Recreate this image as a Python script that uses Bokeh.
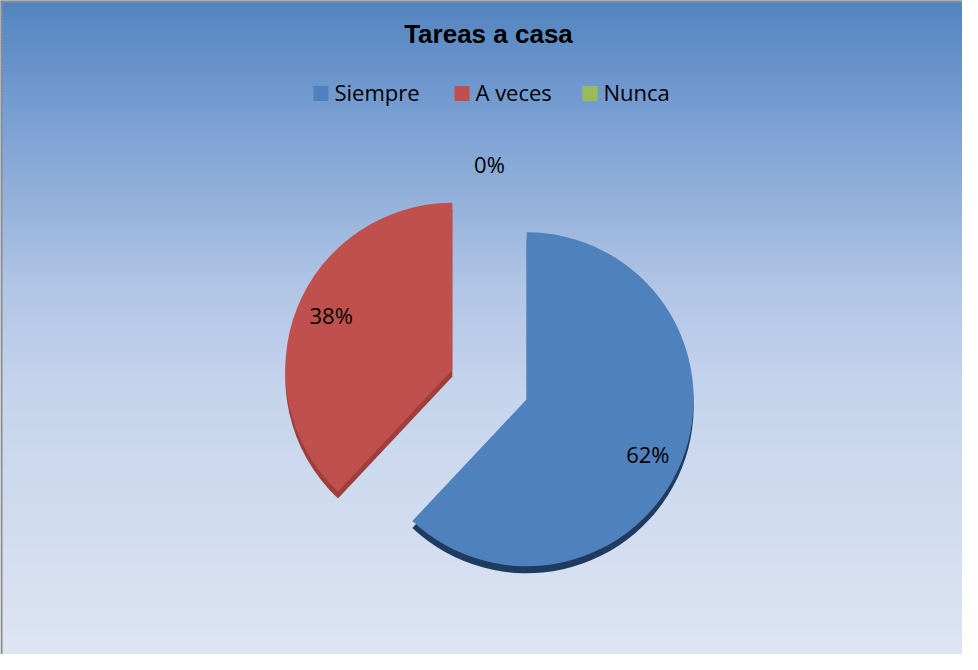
import numpy as np
from bokeh.plotting import figure
from bokeh.models import Range1d
from bokeh.core.properties import value
from bokeh.embed import file_html
from bokeh.resources import INLINE

# ---- data ----
title = "Tareas a casa"
categories = ["Siempre", "A veces", "Nunca"]
percentages = [62, 38, 0]
colors = ["#4f81bd", "#c0504d", "#9bbb59"]
side_colors = ["#1f3b60", "#9e3f3c", "#6f8a3c"]

# ---- layout ----
W, H = 962, 654


def S(y):
    """screen y (page pixels) -> data y"""
    return 670 - y


p = figure(width=W, height=H, output_backend="svg", toolbar_location=None,
           x_range=Range1d(8, 8 + W), y_range=Range1d(670 - 8 - H, 670 - 8),
           min_border=0, x_axis_location=None, y_axis_location=None)
p.grid.visible = False
p.outline_line_color = None
p.border_fill_color = "white"

# background gradient
stops_y = [0, 120, 200, 300, 400, 520, 680]
stops_c = [(79, 129, 189), (120, 158, 210), (145, 175, 217), (178, 198, 230),
           (197, 212, 236), (208, 219, 239), (224, 230, 243)]
ys = np.arange(0, 680, 3)
cols = []
for y in ys:
    c = [int(round(np.interp(y + 1.5, stops_y, [s[i] for s in stops_c]))) for i in range(3)]
    cols.append("#%02x%02x%02x" % tuple(c))
p.quad(left=0, right=990, top=S(ys), bottom=S(ys + 3.6), fill_color=cols, line_color=None)

# border (left & top)
p.quad(left=[8], right=[10], top=[S(0)], bottom=[S(700)], fill_color="#8c8c8c", line_color=None)
p.quad(left=[8], right=[990], top=[S(8)], bottom=[S(10)], fill_color="#8c8c8c", line_color=None)

# title
p.text(x=[496], y=[S(41)], text=[title], text_font=value("Liberation Sans"),
       text_font_style="bold", text_font_size="26px", text_color="black",
       text_align="center", text_baseline="alphabetic")

# legend
legend_x = [321, 462, 590]
legend_y = 101
for lx, cat, col in zip(legend_x, categories, colors):
    p.rect(x=[lx + 7.5], y=[S(legend_y)], width=15, height=15, fill_color=col, line_color=None)
    p.text(x=[lx + 21], y=[S(99)], text=[cat], text_font=value("Open Sans"),
           text_font_size="22px", text_color="black", text_align="left",
           text_baseline="alphabetic")

# pie
vals = np.array(percentages, dtype=float)
fr = vals / vals.sum()
cum = np.concatenate([[0.0], np.cumsum(fr)])
start = np.pi / 2 - 2 * np.pi * cum[:-1]
end = np.pi / 2 - 2 * np.pi * cum[1:]
mid = (start + end) / 2
cx, cy = 497, S(392)
r = 167
explode = 40
depth = 7
vx = cx + explode * np.cos(mid)
vy = cy + explode * np.sin(mid)

nz = vals > 0
idx = np.where(nz)[0]
p.wedge(x=vx[idx], y=vy[idx] - depth, radius=r, start_angle=start[idx], end_angle=end[idx],
        direction="clock", fill_color=[side_colors[i] for i in idx], line_color=None)
p.wedge(x=vx[idx], y=vy[idx], radius=r, start_angle=start[idx], end_angle=end[idx],
        direction="clock", fill_color=[colors[i] for i in idx], line_color=None)

# data labels
lxs, lys, labels = [], [], []
for i, v in enumerate(percentages):
    if v > 0:
        lxs.append(vx[i] + 0.78 * r * np.cos(mid[i]))
        lys.append(vy[i] + 0.78 * r * np.sin(mid[i]) * 1.15)
    else:
        lxs.append(cx + (explode + 1.08 * r) * np.cos(mid[i]))
        lys.append(cy + (explode + 1.08 * r) * np.sin(mid[i]))
    labels.append(f"{v}%")
p.text(x=lxs, y=lys, text=labels, text_font=value("Open Sans"), text_font_size="22px",
       text_color="black", text_align="center", text_baseline="middle")

open("out.html", "w").write(file_html(p, INLINE))
